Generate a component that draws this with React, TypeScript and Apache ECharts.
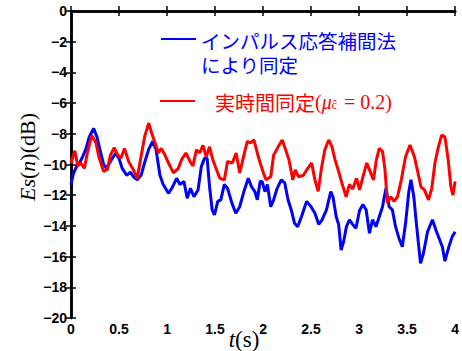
import React, { useEffect, useRef } from "react";
import * as echarts from "echarts";

const xTicks = { min: 0, max: 4, interval: 0.5 };
const yTicks = { min: -20, max: 0, interval: 2 };

const blueT = [0.00,0.025,0.06,0.09,0.12,0.155,0.19,0.236,0.27,0.30,0.34,0.37,0.41,0.465,0.50,0.533,0.58,0.62,0.65,0.69,0.73,0.77,0.81,0.85,0.885,0.926,0.96,0.995,1.015,1.05,1.10,1.135,1.176,1.21,1.244,1.28,1.323,1.357,1.39,1.418,1.443,1.47,1.494,1.528,1.56,1.597,1.63,1.675,1.716,1.757,1.80,1.846,1.88,1.915,1.94,1.97,1.99,2.02,2.045,2.08,2.11,2.147,2.19,2.226,2.26,2.294,2.328,2.36,2.40,2.454,2.50,2.54,2.58,2.615,2.66,2.705,2.728,2.762,2.787,2.813,2.84,2.868,2.90,2.933,2.967,3.005,3.04,3.074,3.108,3.14,3.176,3.21,3.244,3.28,3.313,3.347,3.38,3.415,3.45,3.484,3.518,3.54,3.57,3.60,3.64,3.67,3.713,3.764,3.80,3.833,3.867,3.894,3.935,3.97,4.0];
const blueV = [-11.3,-10.6,-10.1,-9.9,-9.5,-9.0,-8.2,-7.65,-8.2,-9.0,-10.0,-10.25,-9.8,-9.27,-9.6,-10.25,-10.7,-10.5,-10.8,-11.0,-10.7,-9.8,-9.0,-8.5,-9.0,-10.7,-11.3,-11.66,-11.88,-11.55,-10.9,-11.3,-11.1,-12.2,-11.55,-12.1,-11.66,-10.14,-9.6,-9.6,-11.45,-12.96,-13.29,-12.4,-12.3,-11.3,-11.55,-12.5,-13.18,-12.75,-11.77,-10.9,-11.45,-11.77,-12.3,-11.1,-11.1,-11.77,-11.3,-12.75,-12.3,-11.55,-11.0,-11.2,-12.3,-12.96,-13.83,-14.05,-13.4,-12.4,-12.75,-13.18,-13.9,-13.6,-12.96,-11.77,-12.1,-13.4,-13.9,-15.57,-15.0,-14.05,-13.6,-13.9,-14.15,-13.0,-12.6,-12.96,-14.48,-13.6,-14.05,-13.4,-12.75,-11.55,-12.75,-12.96,-14.05,-14.8,-15.36,-13.83,-11.77,-11.0,-12.1,-14.05,-16.44,-15.79,-14.38,-13.6,-14.27,-14.8,-15.36,-16.3,-15.36,-14.7,-14.38];

const redT = [0.00,0.04,0.07,0.10,0.14,0.17,0.215,0.26,0.29,0.34,0.38,0.41,0.45,0.48,0.52,0.557,0.60,0.65,0.69,0.72,0.77,0.81,0.84,0.875,0.91,0.94,0.98,1.015,1.067,1.118,1.15,1.197,1.24,1.27,1.306,1.34,1.374,1.408,1.443,1.477,1.51,1.55,1.597,1.63,1.68,1.72,1.757,1.80,1.836,1.87,1.905,1.94,1.97,2.007,2.03,2.08,2.11,2.157,2.20,2.23,2.27,2.31,2.335,2.37,2.42,2.465,2.506,2.54,2.574,2.608,2.643,2.684,2.718,2.75,2.787,2.82,2.865,2.90,2.933,2.974,3.005,3.04,3.08,3.115,3.15,3.18,3.21,3.244,3.27,3.295,3.33,3.364,3.40,3.44,3.484,3.53,3.576,3.61,3.644,3.68,3.723,3.757,3.79,3.826,3.86,3.894,3.928,3.956,3.977,4.0];
const redV = [-9.9,-9.1,-10.1,-9.9,-10.25,-9.25,-8.1,-8.6,-9.5,-10.45,-10.3,-9.4,-8.9,-9.3,-9.6,-8.95,-9.8,-10.35,-10.9,-9.8,-8.1,-7.3,-7.95,-8.6,-9.25,-8.95,-9.4,-9.9,-10.55,-10.25,-9.7,-9.25,-9.8,-10.1,-9.05,-9.25,-8.75,-9.5,-8.85,-9.7,-10.25,-10.9,-11.0,-9.8,-9.9,-9.25,-10.55,-9.4,-8.5,-8.6,-8.4,-9.25,-9.9,-10.6,-11.0,-10.8,-9.4,-8.85,-8.4,-8.95,-9.7,-11.0,-10.35,-10.8,-10.7,-10.25,-9.9,-11.0,-11.75,-10.25,-9.05,-8.4,-8.85,-9.7,-10.45,-11.2,-12.1,-11.3,-11.6,-10.9,-11.66,-10.8,-9.9,-10.45,-11.0,-9.7,-8.95,-9.15,-10.35,-12.5,-12.1,-12.4,-12.1,-11.0,-9.5,-8.73,-9.5,-10.45,-11.45,-11.65,-12.3,-11.55,-9.9,-8.85,-8.08,-8.2,-9.7,-11.45,-12.0,-11.1];

const seriesNames = ["インパルス応答補間法\nにより同定", "実時間同定(μĉ = 0.2)"];

const SANS = "'Liberation Sans', Arial, sans-serif";
const SERIF = "'Liberation Serif', 'Times New Roman', serif";
const CJK = "'Noto Sans CJK JP', sans-serif";

export default function App() {
  const ref = useRef<HTMLDivElement>(null);
  useEffect(() => {
    if (!ref.current) return;
    const chart = echarts.init(ref.current, undefined, { renderer: "svg" });
    const axisLine = { show: true, lineStyle: { color: "#000", width: 2.5 } };
    const tick = { show: true, inside: true, length: 5, lineStyle: { color: "#000", width: 1.5 } };
    const lbl = { color: "#000", fontFamily: SANS, fontWeight: "bold" as const, fontSize: 14 };
    const fmt = (v: number) => String(v).replace("-", "\u2212");
    chart.setOption({
      animation: false,
      backgroundColor: "#fff",
      grid: { left: 71, right: 1.5, top: 11, bottom: 33 },
      xAxis: [
        { type: "value", ...xTicks, axisLine, axisTick: tick, splitLine: { show: false },
          axisLabel: { ...lbl, margin: 4, formatter: fmt } },
        { type: "value", position: "top", ...xTicks, axisLine, axisTick: tick, splitLine: { show: false },
          axisLabel: { show: false } },
      ],
      yAxis: [
        { type: "value", ...yTicks, axisLine, axisTick: tick, splitLine: { show: false },
          axisLabel: { ...lbl, margin: 4, formatter: fmt } },
        { type: "value", position: "right", ...yTicks, axisLine, axisTick: tick, splitLine: { show: false },
          axisLabel: { show: false } },
      ],
      series: [
        { name: seriesNames[0], type: "line", showSymbol: false, data: blueT.map((t, i) => [t, blueV[i]]),
          lineStyle: { color: "#0000ff", width: 3 }, itemStyle: { color: "#0000ff" } },
        { name: seriesNames[1], type: "line", showSymbol: false, data: redT.map((t, i) => [t, redV[i]]),
          lineStyle: { color: "#ff0000", width: 3 }, itemStyle: { color: "#ff0000" } },
      ],
      graphic: [
        { type: "line", shape: { x1: 161, y1: 39, x2: 196, y2: 39 }, style: { stroke: "#0000ff", lineWidth: 2 } },
        { type: "text", x: 201, y: 28, style: { text: seriesNames[0], font: `19.5px ${CJK}`, lineHeight: 24, fill: "#0000ff", verticalAlign: "top" } },
        { type: "line", shape: { x1: 160, y1: 101, x2: 195, y2: 101 }, style: { stroke: "#ff0000", lineWidth: 2 } },
        { type: "text", x: 215, y: 102, style: {
            text: "{a|実時間同定}{b|(}{m|μ}{c|ĉ}{b| = 0.2)}",
            fill: "#ff0000", verticalAlign: "middle",
            rich: {
              a: { font: `20px ${CJK}`, fill: "#ff0000" },
              b: { font: `20px ${SERIF}`, fill: "#ff0000" },
              m: { font: `italic 20px ${SERIF}`, fill: "#ff0000" },
              c: { font: `12px ${SERIF}`, fill: "#ff0000", padding: [6, 2, 0, 0] },
            } } },
        { type: "text", x: 27, y: 157, rotation: Math.PI / 2, style: {
            text: "{i|Es}{r|(}{i|n}{r|)(dB)}", align: "center", verticalAlign: "middle", fill: "#000",
            rich: {
              i: { font: `italic 22px ${SERIF}`, fill: "#000" },
              r: { font: `22px ${SERIF}`, fill: "#000" },
            } } },
        { type: "text", x: 244, y: 339, style: {
            text: "{i|t}{r|(s)}", align: "center", verticalAlign: "middle", fill: "#000",
            rich: {
              i: { font: `italic 23px ${SERIF}`, fill: "#000" },
              r: { font: `23px ${SERIF}`, fill: "#000" },
            } } },
      ],
    });
    return () => chart.dispose();
  }, []);
  return <div ref={ref} style={{ position: "fixed", left: 0, top: 0, width: 462, height: 351 }} />;
}
